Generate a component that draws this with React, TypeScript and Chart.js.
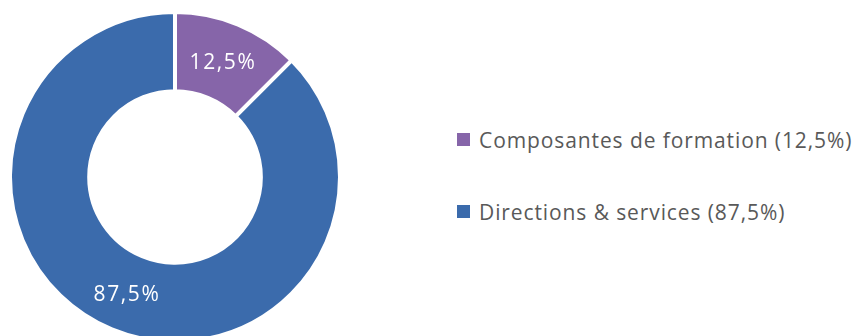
import React, { useEffect, useRef } from "react";
import { Chart, registerables } from "chart.js";

Chart.register(...registerables);

const categories = ["Composantes de formation", "Directions & services"];
const values = [12.5, 87.5];
const colors = ["#8665A9", "#3B6BAC"];

const FONT = "'Open Sans', 'Noto Sans', sans-serif";

const fmt = (v: number) => v.toFixed(1).replace(".", ",") + "%";

const sliceLabels = {
  id: "sliceLabels",
  afterDatasetsDraw(chart: any) {
    const ctx = chart.ctx;
    const meta = chart.getDatasetMeta(0);
    ctx.save();
    ctx.fillStyle = "#ffffff";
    ctx.font = `21px ${FONT}`;
    try { (ctx as any).letterSpacing = "1.6px"; } catch (e) {}
    ctx.textAlign = "center";
    ctx.textBaseline = "middle";
    meta.data.forEach((arc: any, i: number) => {
      const p = arc.tooltipPosition();
      ctx.fillText(fmt(values[i]), p.x, p.y + 2);
    });
    ctx.restore();
  },
};

export default function App() {
  const ref = useRef<HTMLCanvasElement | null>(null);
  useEffect(() => {
    document.body.style.margin = "0";
    const chart = new Chart(ref.current as HTMLCanvasElement, {
      type: "doughnut",
      data: {
        labels: categories,
        datasets: [
          {
            data: values,
            backgroundColor: colors,
            borderColor: "#ffffff",
            borderWidth: 4,
            hoverBorderWidth: 4,
          },
        ],
      },
      options: {
        responsive: false,
        animation: false,
        cutout: "52%",
        layout: { padding: { top: 10, left: 0, right: 0, bottom: 0 } },
        plugins: {
          legend: { display: false },
          tooltip: { enabled: false },
        },
      },
      plugins: [sliceLabels],
    });
    return () => chart.destroy();
  }, []);

  const legendTop = [139.5, 211.5];
  return (
    <div style={{ position: "relative", width: 852, height: 336, overflow: "hidden", background: "#fff" }}>
      <canvas ref={ref} width={350} height={344} style={{ position: "absolute", left: 0, top: 0 }} />
      {categories.map((c, i) => (
        <div key={c} style={{ position: "absolute", left: 457, top: legendTop[i] - 15, height: 30, display: "flex", alignItems: "center", whiteSpace: "nowrap" }}>
          <span style={{ display: "inline-block", width: 13, height: 13, background: colors[i], marginRight: 9 }} />
          <span style={{ font: `21px ${FONT}`, letterSpacing: "0.9px", color: "#595959" }}>{`${c} (${fmt(values[i])})`}</span>
        </div>
      ))}
    </div>
  );
}
